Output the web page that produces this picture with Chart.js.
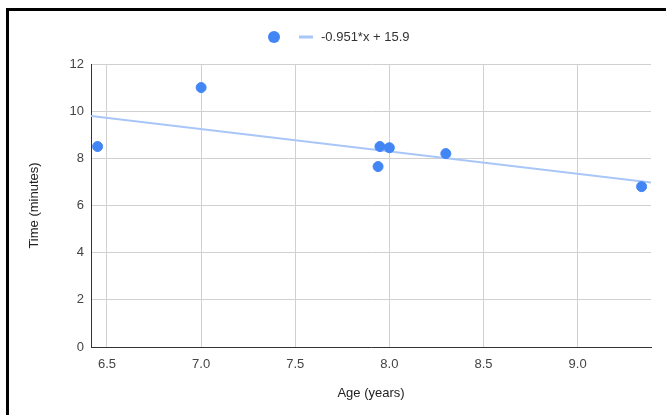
<!DOCTYPE html>
<html>
<head>
<meta charset="utf-8">
<script src="https://cdn.jsdelivr.net/npm/chart.js@4.4.1/dist/chart.umd.min.js"></script>
<style>
  html, body { margin: 0; padding: 0; background: #fff; }
  #wrap { position: relative; width: 666px; height: 415px; overflow: hidden; }
  #chart { position: absolute; left: 0; top: 0; }
  #frame { position: absolute; left: 6px; top: 8px; width: 700px; height: 450px;
           border-top: 3px solid #000; border-left: 3px solid #000; pointer-events: none; }
</style>
</head>
<body>
<div id="wrap">
  <canvas id="chart" width="666" height="415"></canvas>
  <div id="frame"></div>
</div>
<script>
// Age of each child and the time taken
const ages  = [6.45, 7.0, 7.95, 8.0, 7.94, 8.3, 9.34];
const times = [8.5, 11.0, 8.5, 8.45, 7.65, 8.2, 6.8];

// Linear trendline coefficients (time = slope * age + intercept)
const trendSlope = [-0.951];
const trendIntercept = [15.9];
const trendLabel = '-0.951*x + 15.9';

// Axis ranges and tick values
const xRange = [6.415, 9.39];
const xTicks = [6.5, 7.0, 7.5, 8.0, 8.5, 9.0];
const yTicks = [0, 2, 4, 6, 8, 10, 12];

const FONT = 'Arial, "Liberation Sans", sans-serif';
const FONT_SIZE = 13;
const POINT_BLUE = '#4285f4';
const TREND_BLUE = '#a9c6f9';

const points = ages.map((a, i) => ({ x: a, y: times[i] }));
const trend = xRange.map(x => ({ x: x, y: trendSlope[0] * x + trendIntercept[0] }));

// Legend row drawn above the plot: dot for the series, bar + equation for the trendline
const legendRow = {
  id: 'legendRow',
  afterDraw(chart) {
    const ctx = chart.ctx;
    const cy = 37;
    ctx.save();
    ctx.fillStyle = POINT_BLUE;
    ctx.beginPath();
    ctx.arc(274, cy, 6, 0, Math.PI * 2);
    ctx.fill();
    ctx.strokeStyle = TREND_BLUE;
    ctx.lineWidth = 3;
    ctx.beginPath();
    ctx.moveTo(299, cy);
    ctx.lineTo(313, cy);
    ctx.stroke();
    ctx.fillStyle = '#333';
    ctx.font = FONT_SIZE + 'px ' + FONT;
    ctx.textBaseline = 'middle';
    ctx.textAlign = 'left';
    ctx.fillText(trendLabel, 321, cy);
    ctx.restore();
  }
};

new Chart(document.getElementById('chart'), {
  type: 'scatter',
  data: {
    datasets: [
      {
        label: '',
        data: points,
        backgroundColor: POINT_BLUE,
        borderColor: POINT_BLUE,
        pointRadius: 5,
        pointHoverRadius: 5,
        order: 0
      },
      {
        type: 'line',
        label: trendLabel,
        data: trend,
        borderColor: TREND_BLUE,
        borderWidth: 2,
        pointRadius: 0,
        fill: false,
        order: 1
      }
    ]
  },
  plugins: [legendRow],
  options: {
    responsive: false,
    animation: false,
    layout: { padding: { top: 64, right: 15, left: 0, bottom: 0 } },
    plugins: {
      legend: { display: false },
      tooltip: { enabled: false }
    },
    scales: {
      x: {
        type: 'linear',
        min: xRange[0],
        max: xRange[1],
        afterFit(s) { s.height = 68; },
        afterBuildTicks(s) { s.ticks = xTicks.map(v => ({ value: v })); },
        grid: { color: '#d0d0d0', lineWidth: 1, drawTicks: false },
        border: { color: '#333', width: 1 },
        ticks: {
          padding: 10,
          color: '#444',
          font: { family: FONT, size: FONT_SIZE },
          callback: v => Number(v).toFixed(1)
        },
        title: {
          display: true,
          text: 'Age (years)',
          color: '#222',
          font: { family: FONT, size: FONT_SIZE },
          padding: { top: 0, bottom: 14 }
        }
      },
      y: {
        type: 'linear',
        min: yTicks[0],
        max: yTicks[yTicks.length - 1],
        afterFit(s) { s.width = 91; },
        afterBuildTicks(s) { s.ticks = yTicks.map(v => ({ value: v })); },
        grid: { color: '#d0d0d0', lineWidth: 1, drawTicks: false },
        border: { color: '#333', width: 1 },
        ticks: {
          padding: 7,
          color: '#444',
          font: { family: FONT, size: FONT_SIZE },
          callback: v => String(v)
        },
        title: {
          display: true,
          text: 'Time (minutes)',
          color: '#222',
          font: { family: FONT, size: FONT_SIZE },
          padding: { top: 27, bottom: 0 }
        }
      }
    }
  }
});
</script>
</body>
</html>
